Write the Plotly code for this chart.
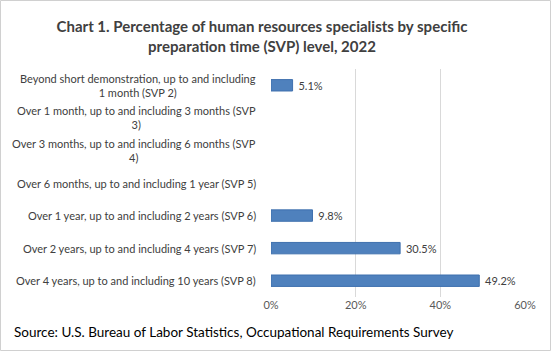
import plotly.graph_objects as go

categories = [
    "Beyond short demonstration, up to and including<br>1 month (SVP 2)",
    "Over 1 month, up to and including 3 months (SVP<br>3)",
    "Over 3 months, up to and including 6 months (SVP<br>4)",
    "Over 6 months, up to and including 1 year (SVP 5)",
    "Over 1 year, up to and including 2 years (SVP 6)",
    "Over 2 years, up to and including 4 years (SVP 7)",
    "Over 4 years, up to and including 10 years (SVP 8)",
]
values = [5.1, None, None, None, 9.8, 30.5, 49.2]
x_ticks = [0, 20, 40, 60]
x_tick_labels = ["0%", "20%", "40%", "60%"]

W, H = 551, 351
ML, MR, MT, MB = 271, 26, 69, 54
PW = W - ML - MR
PH = H - MT - MB

FONT = "Lato"
TXT = "#404040"

fig = go.Figure()
fig.add_trace(go.Bar(
    y=categories,
    x=values,
    orientation="h",
    width=0.35,
    marker=dict(color="#4F81BD", line=dict(color="#3F70AE", width=1)),
    text=[(" %.1f%%" % v) if v is not None else "" for v in values],
    textposition="outside",
    constraintext="none",
    textfont=dict(family=FONT, size=11, color=TXT),
    cliponaxis=False,
    hoverinfo="skip",
))

annotations = []
for c in categories:
    annotations.append(dict(
        x=(258 - ML) / PW, xref="paper", y=c, yref="y",
        text=c, showarrow=False, xanchor="right", yanchor="middle",
        align="center", font=dict(family=FONT, size=11, color=TXT),
    ))
annotations.append(dict(
    x=(12 - ML) / PW, xref="paper", y=(H - MB - 332) / PH, yref="paper",
    text="Source: U.S. Bureau of Labor Statistics, Occupational Requirements Survey",
    showarrow=False, xanchor="left", yanchor="middle",
    font=dict(family=FONT, size=13.5, color="#000000"),
))

fig.update_layout(
    width=W, height=H,
    margin=dict(l=ML, r=MR, t=MT, b=MB),
    paper_bgcolor="white", plot_bgcolor="white",
    showlegend=False,
    title=dict(
        text="<b>Chart 1. Percentage of human resources specialists by specific<br>preparation time (SVP) level, 2022</b>",
        x=262 / W, xanchor="center", y=1 - 32 / H, yanchor="middle",
        font=dict(family=FONT, size=15, color=TXT),
    ),
    xaxis=dict(
        range=[0, 60], tickvals=x_ticks, ticktext=x_tick_labels,
        showgrid=True, gridcolor="#D9D9D9", gridwidth=1,
        zeroline=False, showline=False, ticks="",
        tickfont=dict(family=FONT, size=11, color="#595959"),
        fixedrange=True,
    ),
    yaxis=dict(
        categoryorder="array", categoryarray=categories,
        autorange="reversed", showticklabels=False, ticks="",
        showgrid=False, zeroline=False, showline=False, fixedrange=True,
    ),
    annotations=annotations,
    shapes=[dict(
        type="rect", xref="paper", yref="paper",
        x0=(0.5 - ML) / PW, x1=(550.5 - ML) / PW,
        y0=(H - MB - 350.5) / PH, y1=(H - MB - 0.5) / PH,
        line=dict(color="#D0D0D0", width=1), fillcolor="rgba(0,0,0,0)",
        layer="below",
    )],
)

fig.write_html("out.html")
